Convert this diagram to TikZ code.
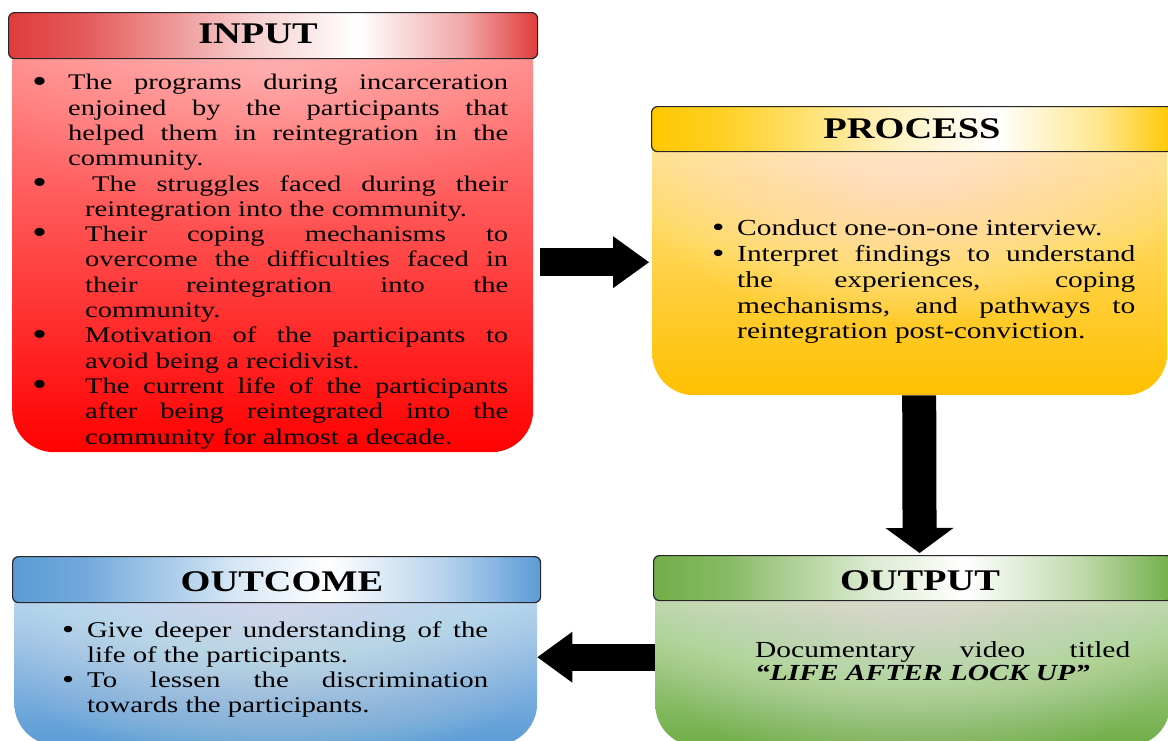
\documentclass[tikz,border=0pt]{standalone}
\usepackage{fontspec}
\setmainfont{Liberation Serif}[FakeStretch=1.28]
\usetikzlibrary{arrows.meta,calc}
\definecolor{inH}{HTML}{E03C3C}
\definecolor{inT}{HTML}{FF9A9A}
\definecolor{inB}{HTML}{FF0000}
\definecolor{prH}{HTML}{FFC800}
\definecolor{prT}{HTML}{FFE79A}
\definecolor{prB}{HTML}{FFC000}
\definecolor{otH}{HTML}{72AE49}
\definecolor{otT}{HTML}{CFE5C0}
\definecolor{otB}{HTML}{70AD47}
\definecolor{ocH}{HTML}{5B9BD5}
\definecolor{ocT}{HTML}{C6DCF2}
\definecolor{ocB}{HTML}{5B9BD5}
\pgfdeclarehorizontalshading{inHS}{100bp}{color(0bp)=(inH); color(25bp)=(inH); color(32bp)=(inH!85!white); color(48bp)=(inH!25!white); color(58bp)=(white); color(68bp)=(inH!45!white); color(75bp)=(inH); color(100bp)=(inH)}
\pgfdeclarehorizontalshading{prHS}{100bp}{color(0bp)=(prH); color(25bp)=(prH); color(32bp)=(prH!85!white); color(48bp)=(prH!25!white); color(58bp)=(white); color(68bp)=(prH!45!white); color(75bp)=(prH); color(100bp)=(prH)}
\pgfdeclarehorizontalshading{otHS}{100bp}{color(0bp)=(otH); color(25bp)=(otH); color(32bp)=(otH!85!white); color(46bp)=(otH!25!white); color(55bp)=(white); color(66bp)=(otH!45!white); color(75bp)=(otH); color(100bp)=(otH)}
\pgfdeclarehorizontalshading{ocHS}{100bp}{color(0bp)=(ocH); color(25bp)=(ocH); color(32bp)=(ocH!85!white); color(46bp)=(ocH!25!white); color(55bp)=(white); color(66bp)=(ocH!45!white); color(75bp)=(ocH); color(100bp)=(ocH)}
\newcommand\myitem[3]{\par\hangindent=#1\hangafter=1\noindent\makebox[#1][l]{\raisebox{#3}{\scalebox{#2}{\textbullet}}}\strut}
\tikzset{
  hdr/.style={rounded corners=6pt, draw=black!85, line width=1.2pt, inner sep=0pt, anchor=north west, shading=#1},
  body/.style={rounded corners=42pt, inner sep=0pt, anchor=north west},
  glow/.style={path picture={\foreach \i in {1,...,36}{\fill[white,opacity=#1] ([yshift=-50pt]path picture bounding box.north) ellipse [x radius=\i*8pt, y radius=\i*4.4pt];}}},
  ttl/.style={font=\fontsize{30}{36}\selectfont\bfseries, anchor=base, inner sep=0pt},
  txt/.style={inner sep=0pt, anchor=north west, align=justify},
  blockarrow/.style={line width=#1, draw=black}
}
\begin{document}
\begin{tikzpicture}[x=1pt,y=-1pt]
\clip (0,0) rectangle (1168,740);
\fill[white] (0,0) rectangle (1168,740);
\tolerance=9999 \hbadness=10000 \parskip=0pt

% INPUT
\node[body, minimum width=521pt, minimum height=432pt, top color=inT, bottom color=inB, glow=0.012] (inbody) at (12,20) {};
\node[hdr=inHS, minimum width=529pt, minimum height=46pt] (inhdr) at (8,12) {};
\node[ttl] (inttl) at (258,43) {INPUT};
\node[txt, text width=476pt, font=\fontsize{22.3}{25.3}\selectfont] (intxt) at (32,64.3) {%
\myitem{36pt}{1.5}{-0.1em}The programs during incarceration\linebreak enjoined by the participants that\linebreak helped them in reintegration in the\linebreak community.
\myitem{53pt}{1.5}{-0.1em}\hspace*{7pt}The struggles faced during their\linebreak reintegration into the community.
\myitem{53pt}{1.5}{-0.1em}Their coping mechanisms to\linebreak overcome the difficulties faced in\linebreak their reintegration into the\linebreak community.
\myitem{53pt}{1.5}{-0.1em}Motivation of the participants to\linebreak avoid being a recidivist.
\myitem{53pt}{1.5}{-0.1em}The current life of the participants\linebreak after being reintegrated into the\linebreak community for almost a decade.\par};

% PROCESS
\node[body, minimum width=515pt, minimum height=281pt, top color=prT, bottom color=prB, glow=0.028] (prbody) at (652,114) {};
\node[hdr=prHS, minimum width=521pt, minimum height=45pt] (prhdr) at (651,106) {};
\node[ttl] (prttl) at (912,138) {PROCESS};
\node[txt, text width=423pt, font=\fontsize{23}{25.7}\selectfont] (prtxt) at (712,210) {%
\myitem{25pt}{1.2}{-0.04em}Conduct one-on-one interview.
\myitem{25pt}{1.2}{-0.04em}Interpret findings to understand\linebreak the experiences, coping\linebreak mechanisms, and pathways to\linebreak reintegration post-conviction.\par};

% OUTPUT
\node[body, minimum width=515pt, minimum height=183pt, top color=otT, bottom color=otB, glow=0.024] (otbody) at (655,563) {};
\node[hdr=otHS, minimum width=519pt, minimum height=45pt] (othdr) at (653,555) {};
\node[ttl] (otttl) at (920,590) {OUTPUT};
\node[txt, text width=375pt, font=\fontsize{23}{23}\selectfont] (ottxt) at (755,640.9) {%
\noindent\strut Documentary video titled\linebreak \textbf{\textit{“LIFE AFTER LOCK UP”}}\par};

% OUTCOME
\node[body, minimum width=523pt, minimum height=180pt, top color=ocT, bottom color=ocB, glow=0.024] (ocbody) at (14,565) {};
\node[hdr=ocHS, minimum width=528pt, minimum height=46pt] (ochdr) at (12,556) {};
\node[ttl] (octtl) at (282,591) {OUTCOME};
\node[txt, text width=426pt, font=\fontsize{22.5}{25}\selectfont] (octxt) at (62,612.5) {%
\myitem{25pt}{1.2}{-0.04em}Give deeper understanding of the\linebreak life of the participants.
\myitem{25pt}{1.2}{-0.04em}To lessen the discrimination\linebreak towards the participants.\par};

% arrows
\draw[blockarrow=28pt, -{Triangle[length=36pt, width=52pt, line width=0pt]}]
  ($(inbody.east)+(7,26)$) -- ($(prbody.west)+(-3,7.5)$);
\draw[blockarrow=34pt, -{Triangle[length=25pt, width=68pt, line width=0pt]}]
  ($(prbody.south)+(9.5,0)$) -- ($(othdr.north)+(6.5,-2)$);
\draw[blockarrow=27pt, -{Triangle[length=35pt, width=51pt, line width=0pt]}]
  ($(otbody.west)+(0,2.5)$) -- ($(ocbody.east)+(0,2)$);
\end{tikzpicture}
\end{document}
